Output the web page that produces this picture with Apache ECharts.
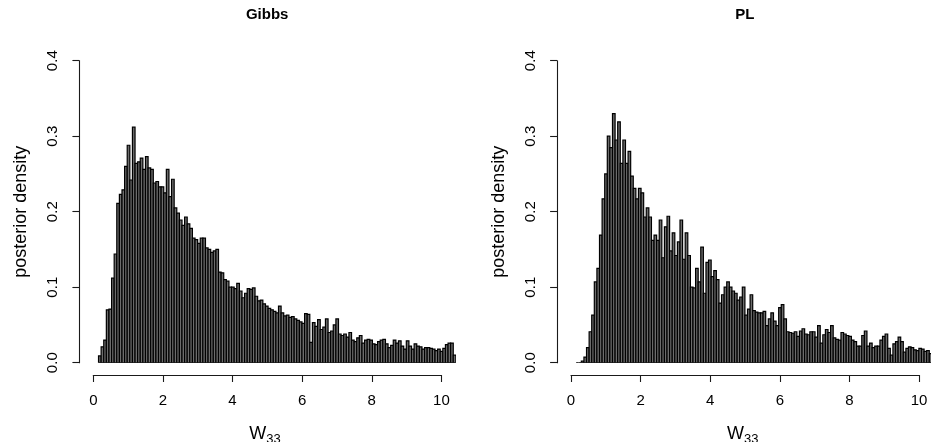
<!DOCTYPE html>
<html>
<head>
<meta charset="utf-8">
<script src="https://cdn.jsdelivr.net/npm/echarts@6/dist/echarts.min.js"></script>
<style>
  html, body { margin: 0; padding: 0; background: #fff; }
  #chart { width: 931px; height: 442px; }
</style>
</head>
<body>
<div id="chart"></div>
<script>
// Histogram bins: left edge of first bin and common bin width
const binStart = 0.15;
const binWidth = 0.075;

// Posterior density of W33 per bin, Gibbs sampler
const gibbsDensity = [
  0.009, 0.021, 0.030, 0.070, 0.071, 0.112, 0.144, 0.211, 0.223, 0.229,
  0.260, 0.288, 0.242, 0.312, 0.264, 0.266, 0.271, 0.256, 0.273, 0.258,
  0.256, 0.238, 0.240, 0.233, 0.233, 0.225, 0.256, 0.220, 0.243, 0.205,
  0.198, 0.189, 0.182, 0.193, 0.184, 0.178, 0.165, 0.163, 0.158, 0.165,
  0.165, 0.152, 0.150, 0.146, 0.148, 0.150, 0.120, 0.119, 0.110, 0.108,
  0.100, 0.100, 0.098, 0.105, 0.095, 0.086, 0.092, 0.098, 0.097, 0.099,
  0.088, 0.082, 0.083, 0.078, 0.075, 0.072, 0.070, 0.068, 0.066, 0.075,
  0.066, 0.062, 0.063, 0.060, 0.061, 0.058, 0.056, 0.054, 0.052, 0.065,
  0.064, 0.027, 0.053, 0.048, 0.057, 0.044, 0.047, 0.058, 0.040, 0.042,
  0.050, 0.058, 0.038, 0.036, 0.038, 0.034, 0.040, 0.030, 0.028, 0.033,
  0.036, 0.026, 0.030, 0.031, 0.030, 0.025, 0.024, 0.028, 0.030, 0.031,
  0.025, 0.020, 0.023, 0.030, 0.026, 0.029, 0.022, 0.018, 0.029, 0.022,
  0.018, 0.025, 0.022, 0.021, 0.018, 0.020, 0.020, 0.019, 0.018, 0.016,
  0.018, 0.015, 0.019, 0.024, 0.026, 0.026, 0.010
];

// Posterior density of W33 per bin, particle learning
const plDensity = [
  0.000, 0.000, 0.002, 0.0075, 0.020, 0.041, 0.063, 0.107, 0.125, 0.169,
  0.217, 0.250, 0.300, 0.285, 0.330, 0.295, 0.319, 0.264, 0.295, 0.264,
  0.280, 0.247, 0.231, 0.217, 0.231, 0.225, 0.193, 0.205, 0.193, 0.162,
  0.169, 0.162, 0.189, 0.139, 0.180, 0.194, 0.148, 0.172, 0.142, 0.160,
  0.189, 0.137, 0.172, 0.142, 0.100, 0.099, 0.125, 0.107, 0.153, 0.092,
  0.133, 0.136, 0.114, 0.122, 0.110, 0.079, 0.090, 0.100, 0.107, 0.100,
  0.095, 0.092, 0.083, 0.087, 0.100, 0.063, 0.071, 0.090, 0.069, 0.067,
  0.066, 0.066, 0.068, 0.049, 0.058, 0.066, 0.055, 0.049, 0.073, 0.077,
  0.058, 0.041, 0.040, 0.039, 0.041, 0.035, 0.042, 0.045, 0.038, 0.037,
  0.041, 0.041, 0.034, 0.049, 0.026, 0.037, 0.044, 0.040, 0.049, 0.033,
  0.031, 0.030, 0.040, 0.038, 0.036, 0.035, 0.030, 0.028, 0.022, 0.022,
  0.036, 0.042, 0.022, 0.026, 0.020, 0.022, 0.022, 0.030, 0.035, 0.038,
  0.019, 0.010, 0.025, 0.028, 0.034, 0.028, 0.014, 0.019, 0.021, 0.020,
  0.017, 0.016, 0.019, 0.018, 0.015, 0.016, 0.012
];

const panelTitles = ['Gibbs', 'PL'];
const yAxisTitle = 'posterior density';

const FONT = '"Liberation Sans", Arial, Helvetica, sans-serif';

function toBins(values) {
  return values.map((v, i) => [binStart + i * binWidth, binStart + (i + 1) * binWidth, v]);
}

function renderBin(params, api) {
  const lo = api.coord([api.value(0), api.value(2)]);
  const hi = api.coord([api.value(1), 0]);
  return {
    type: 'rect',
    shape: { x: lo[0], y: lo[1], width: hi[0] - lo[0], height: hi[1] - lo[1] },
    style: { fill: '#6c6c6c', stroke: '#000', lineWidth: 1.2 }
  };
}

// Panel geometry: plot region (x -0.4..10.4) and tick span of x axis (0..10)
const panels = [
  { plotLeft: 79.4, axisLeft: 93.3 },
  { plotLeft: 557.1, axisLeft: 571.0 }
];
const plotWidth = 375.6;
const axisWidth = 348.1;
const yTop = 60.7;
const yHeight = 302.0;
const xAxisY = 375;
const axisColor = '#1a1a1a';

const grid = [], xAxis = [], yAxis = [], series = [], graphic = [];
const datasets = [gibbsDensity, plDensity];

panels.forEach((p, k) => {
  const g0 = grid.length;
  // plot grid: holds bars and the y axis
  grid.push({ left: p.plotLeft, top: yTop, width: plotWidth, height: yHeight,
              show: true, borderColor: 'transparent', backgroundColor: 'transparent' });
  // axis grid: carries the x axis over the tick range only
  grid.push({ left: p.axisLeft, top: 200, width: axisWidth, height: xAxisY - 200,
              show: true, borderColor: 'transparent', backgroundColor: 'transparent' });

  xAxis.push({
    gridIndex: g0, type: 'value', min: -0.4, max: 10.4, show: false
  });
  yAxis.push({
    gridIndex: g0, type: 'value', min: 0, max: 0.4, interval: 0.1,
    axisLine: { show: true, onZero: false, lineStyle: { color: axisColor, width: 1.1 } },
    axisTick: { show: true, length: 7, lineStyle: { color: axisColor, width: 1.1 } },
    splitLine: { show: false },
    axisLabel: {
      rotate: 90, margin: 19, fontFamily: FONT, fontSize: 15, color: '#000',
      formatter: v => v.toFixed(1)
    }
  });

  xAxis.push({
    gridIndex: g0 + 1, type: 'value', min: 0, max: 10, interval: 2,
    axisLine: { show: true, onZero: false, lineStyle: { color: axisColor, width: 1.1 } },
    axisTick: { show: true, length: 7, lineStyle: { color: axisColor, width: 1.1 } },
    splitLine: { show: false },
    axisLabel: { margin: 18, fontFamily: FONT, fontSize: 15, color: '#000' }
  });
  yAxis.push({ gridIndex: g0 + 1, type: 'value', min: 0, max: 1, show: false });

  series.push({
    type: 'custom',
    xAxisIndex: g0, yAxisIndex: g0,
    clip: true,
    renderItem: renderBin,
    data: toBins(datasets[k])
  });

  const cx = p.plotLeft + plotWidth / 2;
  graphic.push({
    type: 'text', x: cx, y: 15,
    style: { text: panelTitles[k], font: 'bold 15px ' + FONT, fill: '#000',
             textAlign: 'center', textVerticalAlign: 'middle' }
  });
  graphic.push({
    type: 'text', x: p.plotLeft - 58, y: yTop + yHeight / 2, rotation: Math.PI / 2,
    style: { text: yAxisTitle, font: '18px ' + FONT, fill: '#000',
             textAlign: 'center', textVerticalAlign: 'middle' }
  });
  graphic.push({
    type: 'text', x: cx - 1, y: 434,
    style: { text: 'W', font: '18px ' + FONT, fill: '#000',
             textAlign: 'right', textVerticalAlign: 'middle' }
  });
  graphic.push({
    type: 'text', x: cx - 1, y: 439,
    style: { text: '33', font: '13px ' + FONT, fill: '#000',
             textAlign: 'left', textVerticalAlign: 'middle' }
  });
});

const chart = echarts.init(document.getElementById('chart'), null, { renderer: 'canvas' });
chart.setOption({
  animation: false,
  backgroundColor: '#fff',
  grid, xAxis, yAxis, series, graphic
});
</script>
</body>
</html>
